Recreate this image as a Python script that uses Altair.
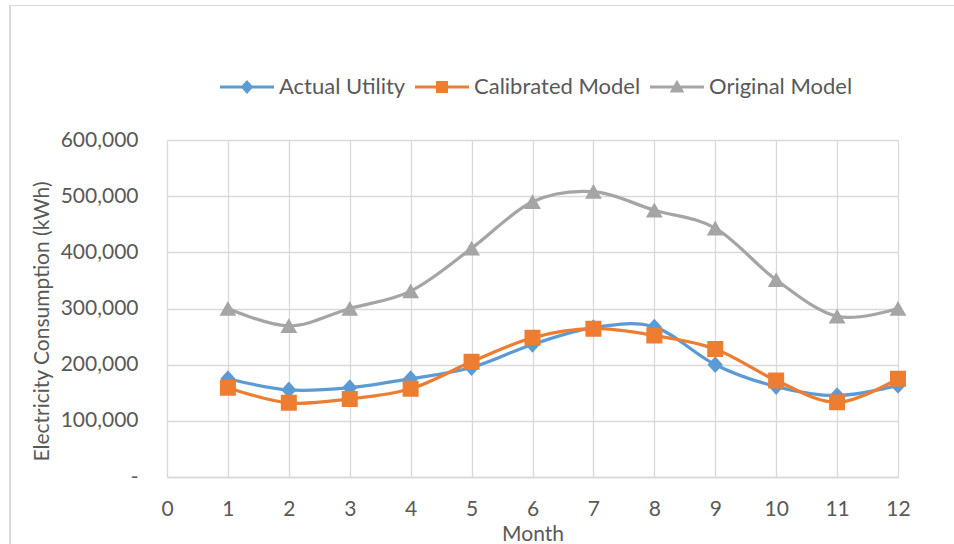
import altair as alt
import pandas as pd

months = list(range(1, 13))
series_names = ["Actual Utility", "Calibrated Model", "Original Model"]
actual = [175000, 155000, 159000, 175000, 195000, 236000, 266000, 267000, 200000, 161000, 145000, 163000]
calibrated = [159000, 132000, 139000, 157000, 205000, 248000, 264000, 252000, 228000, 172000, 133000, 175000]
original = [300000, 269000, 300000, 331000, 407000, 490000, 508000, 475000, 443000, 351000, 286000, 300000]
colors = ["#5B9BD5", "#ED7D31", "#A5A5A5"]
x_ticks = list(range(0, 13))
y_ticks = [0, 100000, 200000, 300000, 400000, 500000, 600000]

# marker shapes with a horizontal segment (visible only in the legend, where symbols are stroked)
shapes = [
    "M-6,0H6M0,-1.05L0.95,0L0,1.05L-0.95,0Z",
    "M-6,0H6M-1,-1H1V1H-1Z",
    "M-6,0H6M0,-0.95L1.05,0.9H-1.05Z",
]

rows = []
for name, vals in zip(series_names, [actual, calibrated, original]):
    for m, v in zip(months, vals):
        rows.append({"Month": m, "Value": v, "Series": name})
df = pd.DataFrame(rows)

FONT = "Lato"
TXT = "#595959"
GRID = "#D9D9D9"

x_enc = alt.X(
    "Month:Q",
    scale=alt.Scale(domain=[0, 12], nice=False, zero=False),
    axis=alt.Axis(
        values=x_ticks, title="Month", format="d", grid=True, gridColor=GRID, gridWidth=1.3,
        domain=True, domainColor=GRID, domainWidth=1.3, ticks=False, tickSize=0,
        labelPadding=32, labelBaseline="middle", labelFlush=False, labelFont=FONT,
        labelFontSize=21, labelColor=TXT, titleFont=FONT, titleFontSize=21, titleColor=TXT,
        titleFontWeight="normal", titleBaseline="middle", titleY=57, titleX=365.5,
        titleAlign="center",
    ),
)
y_enc = alt.Y(
    "Value:Q",
    scale=alt.Scale(domain=[0, 600000], nice=False),
    axis=alt.Axis(
        values=y_ticks, title="Electricity Consumption (kWh)", grid=True, gridColor=GRID,
        gridWidth=1.3, domain=False, ticks=False, tickSize=0, labelPadding=29,
        labelExpr="datum.value == 0 ? '-\u00a0\u00a0' : format(datum.value, ',')",
        labelFont=FONT, labelFontSize=21, labelColor=TXT, labelBaseline="middle",
        titleFont=FONT, titleFontSize=21, titleColor=TXT, titleFontWeight="normal",
        titleAngle=270, titleX=-124.5, titleY=181, titleAlign="center",
        titleBaseline="middle",
    ),
)

color_scale = alt.Scale(domain=series_names, range=colors)

lines = alt.Chart(df).mark_line(
    interpolate="cardinal", tension=0, strokeWidth=3.25, strokeCap="round"
).encode(
    x=x_enc,
    y=y_enc,
    color=alt.Color("Series:N", scale=color_scale, legend=None),
    detail="Series:N",
)

legend = alt.Legend(
    title=None, orient="none", legendX=69, legendY=-64, direction="horizontal",
    labelFont=FONT, labelFontSize=22, labelColor=TXT, labelLimit=400, symbolSize=81,
    symbolStrokeWidth=3, labelOffset=21, columnPadding=3, padding=0,
)

points = alt.Chart(df).mark_point(filled=True, size=256, opacity=1).encode(
    x="Month:Q",
    y="Value:Q",
    fill=alt.Fill("Series:N", scale=color_scale, legend=legend),
    stroke=alt.Stroke("Series:N", scale=color_scale, legend=legend),
    shape=alt.Shape("Series:N", scale=alt.Scale(domain=series_names, range=shapes), legend=legend),
    strokeWidth=alt.value(0),
)

frame_left = alt.Chart(alt.Data(values=[{}])).mark_rule(color=GRID, strokeWidth=2).encode(
    x=alt.value(-157), y=alt.value(-135), y2=alt.value(410)
)
frame_top = alt.Chart(alt.Data(values=[{}])).mark_rule(color=GRID, strokeWidth=1).encode(
    x=alt.value(-158), x2=alt.value(800), y=alt.value(-134.5)
)

chart = alt.layer(frame_left, frame_top, lines, points).resolve_scale(
    color="independent"
).properties(
    width=731, height=337, autosize="none",
    padding={"left": 167, "top": 140, "right": 56, "bottom": 67},
    background="white",
).configure_view(stroke=None)

chart.save("out.html", embed_options={"renderer": "svg", "actions": False})
